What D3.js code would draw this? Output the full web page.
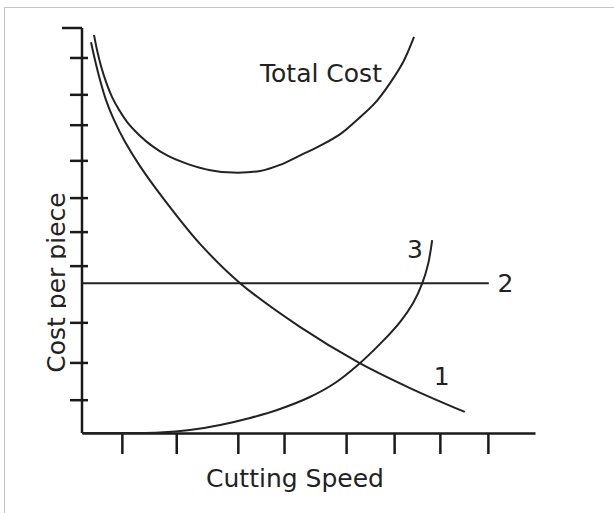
<!DOCTYPE html>
<html>
<head>
<meta charset="utf-8">
<script src="https://cdn.jsdelivr.net/npm/d3@7"></script>
<style>
  body { margin: 0; background: #fff; }
  text { font-family: "DejaVu Sans", Verdana, sans-serif; fill: #222; }
</style>
</head>
<body>
<script>
// values, both axes on a 0-100 scale
var curve1 = [[1.99,96.5],[2.87,92.1],[3.97,87.2],[5.30,82.2],[7.06,77.3],[9.49,71.9],[12.8,65.9],[17.9,58.0],[26.05,46.7],[34.9,37.0],[48.1,26.2],[60.9,17.5],[72.4,11.1],[84.5,5.2]];
var totalCost = [[2.65,98.3],[3.31,94.6],[4.19,90.6],[5.30,86.7],[6.62,83.0],[8.17,79.8],[10.15,76.5],[12.6,73.6],[15.45,70.9],[19.0,68.4],[23.4,66.4],[28.3,64.9],[33.3,64.3],[39.3,64.7],[43.7,66.2],[47.5,68.2],[52.5,70.9],[57.0,73.8],[60.7,77.3],[64.7,81.5],[68.0,86.4],[70.9,91.6],[73.3,97.8]];
var curve3 = [[0,0],[10.6,0],[17.2,0.12],[23.8,0.74],[30.5,1.98],[37.1,3.7],[43.7,5.93],[50.3,8.89],[55.85,12.35],[60.9,16.8],[65.8,22.0],[70.2,27.4],[73.1,32.1],[75.06,36.8],[76.4,41.7],[77.3,47.65]];
var line2 = [[0,37.0],[89.8,37.0]];
var xTicks = [8.8, 20.8, 34.4, 44.6, 58.3, 68.9, 79.0, 89.6];
var yTicks = [92.6, 83.5, 76.0, 67.2, 58.0, 49.6, 41.2, 27.2, 17.3, 8.1];
var labels = [
  {text: "Total Cost", x: 39.3, y: 86.7, anchor: "start"},
  {text: "3", x: 73.5, y: 43.2, anchor: "middle"},
  {text: "2", x: 93.5, y: 34.8, anchor: "middle"},
  {text: "1", x: 79.4, y: 11.8, anchor: "middle"}
];

var svg = d3.select("body").append("svg").attr("width", 614).attr("height", 513);

// grey frame of the original screenshot
svg.append("line").attr("x1", 4).attr("y1", 7.5).attr("x2", 614).attr("y2", 7.5).attr("stroke", "#c4c4c4");
svg.append("line").attr("x1", 4.5).attr("y1", 7).attr("x2", 4.5).attr("y2", 513).attr("stroke", "#c4c4c4");

var x = d3.scaleLinear().domain([0, 100]).range([82, 535]);
var y = d3.scaleLinear().domain([0, 100]).range([433, 28]);

// x axis, ticks below only
svg.append("g").attr("transform", "translate(0,433)")
  .call(d3.axisBottom(x).tickValues(xTicks).tickFormat("").tickSizeInner(21).tickSizeOuter(0))
  .call(function(g) { g.selectAll("path, line").attr("stroke", "#1a1a1a").attr("stroke-width", 2.5); });

// y axis, ticks cross the line
svg.append("line").attr("x1", x(0)).attr("x2", x(0)).attr("y1", y(100)).attr("y2", y(0))
  .attr("stroke", "#1a1a1a").attr("stroke-width", 2.5);
svg.selectAll("line.ytick").data(yTicks).enter().append("line").attr("class", "ytick")
  .attr("x1", x(0) - 12).attr("x2", x(0) + 6)
  .attr("y1", function(d) { return y(d); }).attr("y2", function(d) { return y(d); })
  .attr("stroke", "#1a1a1a").attr("stroke-width", 2.5);
svg.append("line").attr("x1", x(0) - 20).attr("x2", x(0))
  .attr("y1", y(100)).attr("y2", y(100)).attr("stroke", "#1a1a1a").attr("stroke-width", 2.5);

var line = d3.line().x(function(d) { return x(d[0]); }).y(function(d) { return y(d[1]); })
  .curve(d3.curveCatmullRom.alpha(0.5));

svg.selectAll("path.curve").data([curve1, totalCost, curve3, line2]).enter().append("path")
  .attr("class", "curve")
  .attr("d", line)
  .attr("fill", "none").attr("stroke", "#222").attr("stroke-width", 2);

svg.selectAll("text.lbl").data(labels).enter().append("text").attr("class", "lbl")
  .attr("x", function(d) { return x(d.x); }).attr("y", function(d) { return y(d.y); })
  .attr("text-anchor", function(d) { return d.anchor; })
  .style("font-size", "25px")
  .text(function(d) { return d.text; });

svg.append("text").attr("x", 295).attr("y", 487).attr("text-anchor", "middle")
  .style("font-size", "25px").text("Cutting Speed");

// y title, descenders cut off as in the original (nested svg clips its content)
svg.append("svg").attr("x", 0).attr("y", 0).attr("width", 66).attr("height", 513)
  .append("text").attr("transform", "translate(65,282.5) rotate(-90)").attr("text-anchor", "middle")
  .style("font-size", "25px").text("Cost per piece");
</script>
</body>
</html>
